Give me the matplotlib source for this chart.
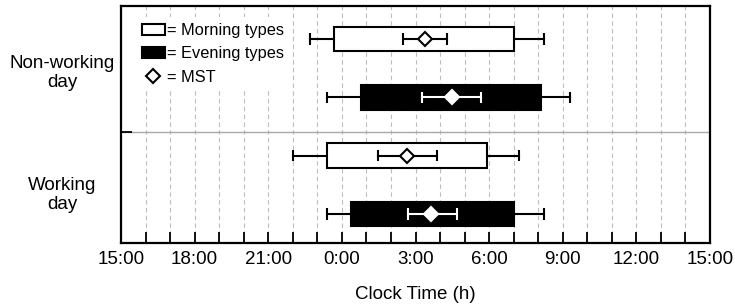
"""
Morning vs evening chronotypes: sleep timing on working and non-working days.
Times are hours relative to midnight (negative = previous evening).
"""

import matplotlib
matplotlib.use('Agg')
import matplotlib.pyplot as plt
from matplotlib.patches import Patch
from matplotlib.lines import Line2D

plt.rcParams['font.family'] = ['Liberation Sans', 'DejaVu Sans']

# rows, bottom to top
rows = ['Working / Evening', 'Working / Morning',
        'Non-working / Evening', 'Non-working / Morning']
row_y = [0, 1, 2, 3]
is_evening = [True, False, True, False]

whisker_lo = [-0.61, -2.00, -0.62, -1.30]
box_lo = [0.37, -0.61, 0.78, -0.33]
box_hi = [7.00, 5.92, 8.10, 7.02]
whisker_hi = [8.25, 7.20, 9.28, 8.25]

mst = [3.65, 2.65, 4.50, 3.38]
mst_lo = [2.68, 1.46, 3.25, 2.49]
mst_hi = [4.70, 3.88, 5.68, 4.29]

# x ticks every hour, labelled every third hour
tick_hours = list(range(-9, 16))
tick_labels = ['15:00', '', '', '18:00', '', '', '21:00', '', '', '0:00', '', '',
               '3:00', '', '', '6:00', '', '', '9:00', '', '', '12:00', '', '', '15:00']

group_labels = ['Non-working\nday', 'Working\nday']

fig = plt.figure(figsize=(7.35, 3.08), dpi=100)
ax = fig.add_axes([121/735, 1 - 243/308, 589/735, 237/308])

box_h = 0.42
cap_h = 0.2

# hourly dashed grid
for h in tick_hours[1:-1]:
    ax.axvline(h, color='#bdbdbd', lw=0.8, ls=(0, (4, 3)), zorder=0)
ax.axhline(1.41, color='#a8a8a8', lw=1.0, zorder=0)

for i, y in enumerate(row_y):
    fill = 'black' if is_evening[i] else 'white'
    inner = 'white' if is_evening[i] else 'black'

    # whiskers
    ax.plot([whisker_lo[i], box_lo[i]], [y, y], color='black', lw=1.5, zorder=2)
    ax.plot([box_hi[i], whisker_hi[i]], [y, y], color='black', lw=1.5, zorder=2)
    ax.vlines([whisker_lo[i], whisker_hi[i]], y - cap_h/2, y + cap_h/2,
              color='black', lw=1.5, zorder=2)

    # box
    ax.barh(y, box_hi[i] - box_lo[i], left=box_lo[i], height=box_h,
            color=fill, edgecolor='black', lw=1.5, zorder=3)

    # MST with its error bar
    ax.plot([mst_lo[i], mst_hi[i]], [y, y], color=inner, lw=1.5, zorder=4)
    ax.vlines([mst_lo[i], mst_hi[i]], y - cap_h/2, y + cap_h/2,
              color=inner, lw=1.5, zorder=4)
    ax.plot(mst[i], y, marker='D', ms=6.8, mew=1.5,
            mfc='white', mec=inner, zorder=5)

ax.set_xlim(-9, 15)
ax.set_ylim(-0.5, 3.57)

ax.set_xticks(tick_hours)
ax.set_xticklabels(tick_labels)
ax.set_yticks([1.41])
ax.set_yticklabels([''])
ax.tick_params(axis='both', direction='in', length=8, width=1.3,
               labelsize=13.5, pad=6)
for s in ax.spines.values():
    s.set_linewidth(1.6)

ax.set_xlabel('Clock Time (h)', fontsize=13.5, labelpad=13)

fig.text(62/735, 1 - 73/308, group_labels[0], ha='center', va='center',
         fontsize=13.5, linespacing=1.2)
fig.text(62/735, 1 - 195/308, group_labels[1], ha='center', va='center',
         fontsize=13.5, linespacing=1.2)

handles = [
    Patch(facecolor='white', edgecolor='black', lw=1.5),
    Patch(facecolor='black', edgecolor='black', lw=1.5),
    Line2D([], [], ls='none', marker='D', ms=7.2, mew=1.5, mfc='white', mec='black'),
]
leg = ax.legend(handles, ['= Morning types', '= Evening types', '= MST'],
                loc='upper left', bbox_to_anchor=(0.01, 0.99),
                fontsize=11.8, handlelength=1.4, handleheight=0.6,
                handletextpad=0.15, labelspacing=0.5, borderpad=0.4,
                frameon=True, fancybox=False, framealpha=1, edgecolor='none')

fig.savefig('out.png', dpi=100)
